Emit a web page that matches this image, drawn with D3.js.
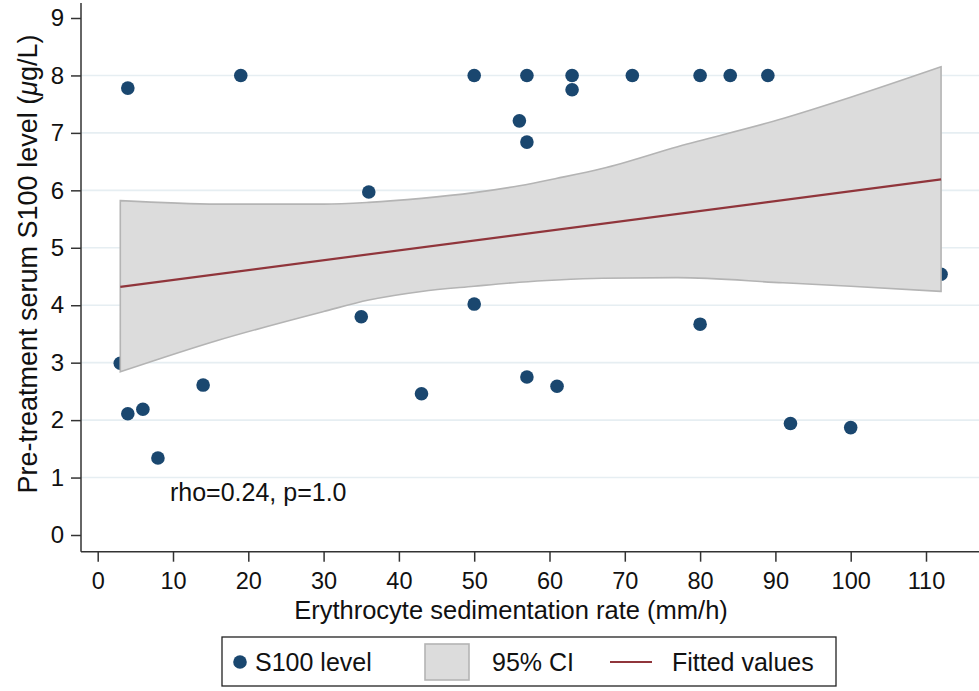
<!DOCTYPE html>
<html>
<head>
<meta charset="utf-8">
<script src="https://cdn.jsdelivr.net/npm/d3@7"></script>
<style>
  body { margin: 0; background: #fff; }
  text { font-family: "Liberation Sans", Arial, Helvetica, sans-serif; fill: #111; }
</style>
</head>
<body>
<div class="canvas"></div>
<script>
// S100 vs ESR scatter
const esr  = [3, 4, 4, 6, 8, 14, 19, 35, 36, 43, 50, 50, 56, 57, 57, 57, 61, 63, 63, 71, 80, 80, 84, 89, 92, 100, 112];
const s100 = [2.99, 7.78, 2.11, 2.19, 1.34, 2.61, 8, 3.80, 5.97, 2.46, 8, 4.02, 7.21, 8, 6.84, 2.75, 2.59, 8, 7.75, 8, 8, 3.67, 8, 8, 1.94, 1.87, 4.54];

// 95% CI band
const ciX     = [3, 16, 30, 36, 43, 50, 56, 61, 67, 77, 91, 100, 112];
const ciUpper = [5.82, 5.76, 5.76, 5.79, 5.86, 5.96, 6.08, 6.21, 6.38, 6.76, 7.25, 7.62, 8.15];
const ciLower = [2.84, 3.39, 3.89, 4.09, 4.24, 4.33, 4.40, 4.44, 4.47, 4.48, 4.39, 4.33, 4.24];

// fitted values
const fitX = [3, 112];
const fitY = [4.32, 6.19];

const xTicks = d3.range(0, 111, 10);
const yTicks = d3.range(0, 10, 1);
const gridTicks = d3.range(1, 9, 1);

const W = 979, H = 691;
const POINT_COLOR = '#1a476f';
const CI_FILL = '#dcdcdc';
const CI_STROKE = '#b4b4b4';
const FIT_COLOR = '#90353b';

const svg = d3.select('.canvas')
  .append('svg')
    .attr('width', W)
    .attr('height', H);

const axisX = 81, axisY = 551.7;

const x = d3.scaleLinear().domain([0, 110]).range([97.7, 926]);
const y = d3.scaleLinear().domain([0, 9]).range([535, 18]);

// gridlines
svg.append('g')
  .selectAll('line')
  .data(gridTicks)
  .enter().append('line')
    .attr('x1', axisX).attr('x2', W)
    .attr('y1', d => y(d)).attr('y2', d => y(d))
    .attr('stroke', '#e6eef2')
    .attr('stroke-width', 1.6);

// scatter first, band drawn over it (as in the original)
svg.append('g')
  .selectAll('circle')
  .data(esr.map((d, i) => [d, s100[i]]))
  .enter().append('circle')
    .attr('cx', d => x(d[0]))
    .attr('cy', d => y(d[1]))
    .attr('r', 6.8)
    .attr('fill', POINT_COLOR);

const band = ciX.map((d, i) => ({x: d, lo: ciLower[i], hi: ciUpper[i]}));
const area = d3.area()
  .x(d => x(d.x))
  .y0(d => y(d.lo))
  .y1(d => y(d.hi))
  .curve(d3.curveMonotoneX);

svg.append('path')
  .datum(band)
  .attr('d', area)
  .attr('fill', CI_FILL)
  .attr('stroke', CI_STROKE)
  .attr('stroke-width', 1.6);

const line = d3.line()
  .x(d => x(d[0]))
  .y(d => y(d[1]));

svg.append('path')
  .datum(fitX.map((d, i) => [d, fitY[i]]))
  .attr('d', line)
  .attr('fill', 'none')
  .attr('stroke', FIT_COLOR)
  .attr('stroke-width', 2.2);

// axes
const yAxis = svg.append('g')
  .attr('transform', `translate(${axisX},0)`)
  .call(d3.axisLeft(y).tickValues(yTicks).tickSize(10).tickPadding(7));
yAxis.select('.domain').remove();
yAxis.selectAll('.tick line').attr('stroke', '#333').attr('stroke-width', 1.5);
yAxis.selectAll('.tick text').style('font-size', '24px').attr('fill', '#111');

const xAxis = svg.append('g')
  .attr('transform', `translate(0,${axisY})`)
  .call(d3.axisBottom(x).tickValues(xTicks).tickSize(10).tickPadding(11));
xAxis.select('.domain').remove();
xAxis.selectAll('.tick line').attr('stroke', '#333').attr('stroke-width', 1.5);
xAxis.selectAll('.tick text').style('font-size', '23.5px').attr('fill', '#111');

svg.append('line')
  .attr('x1', axisX).attr('x2', axisX)
  .attr('y1', 3).attr('y2', axisY)
  .attr('stroke', '#333').attr('stroke-width', 1.5);
svg.append('line')
  .attr('x1', axisX).attr('x2', W)
  .attr('y1', axisY).attr('y2', axisY)
  .attr('stroke', '#333').attr('stroke-width', 1.5);

// titles
svg.append('text')
  .attr('x', 511).attr('y', 619)
  .attr('text-anchor', 'middle')
  .style('font-size', '25.5px')
  .text('Erythrocyte sedimentation rate (mm/h)');

const yTitle = svg.append('text')
  .attr('transform', 'translate(37,264) rotate(-90)')
  .attr('text-anchor', 'middle')
  .style('font-size', '27px');
yTitle.append('tspan').text('Pre-treatment serum S100 level (');
yTitle.append('tspan').style('font-style', 'italic').text('μ');
yTitle.append('tspan').text('g/L)');

svg.append('text')
  .attr('x', x(9.6)).attr('y', y(0.6))
  .style('font-size', '25px')
  .text('rho=0.24, p=1.0');

// legend
const legend = svg.append('g');
legend.append('rect')
  .attr('x', 222).attr('y', 637)
  .attr('width', 614).attr('height', 49)
  .attr('fill', '#fff')
  .attr('stroke', '#222')
  .attr('stroke-width', 1.3);

const legY = 662;
legend.append('circle')
  .attr('cx', 240).attr('cy', legY).attr('r', 6.8)
  .attr('fill', POINT_COLOR);
legend.append('text')
  .attr('x', 255).attr('y', legY + 9)
  .style('font-size', '25px')
  .text('S100 level');

legend.append('rect')
  .attr('x', 425).attr('y', 644)
  .attr('width', 44).attr('height', 36)
  .attr('fill', CI_FILL)
  .attr('stroke', CI_STROKE)
  .attr('stroke-width', 1.6);
legend.append('text')
  .attr('x', 492).attr('y', legY + 9)
  .style('font-size', '25px')
  .text('95% CI');

legend.append('line')
  .attr('x1', 610).attr('x2', 652)
  .attr('y1', legY).attr('y2', legY)
  .attr('stroke', FIT_COLOR)
  .attr('stroke-width', 2.2);
legend.append('text')
  .attr('x', 672).attr('y', legY + 9)
  .style('font-size', '25px')
  .text('Fitted values');
</script>
</body>
</html>
